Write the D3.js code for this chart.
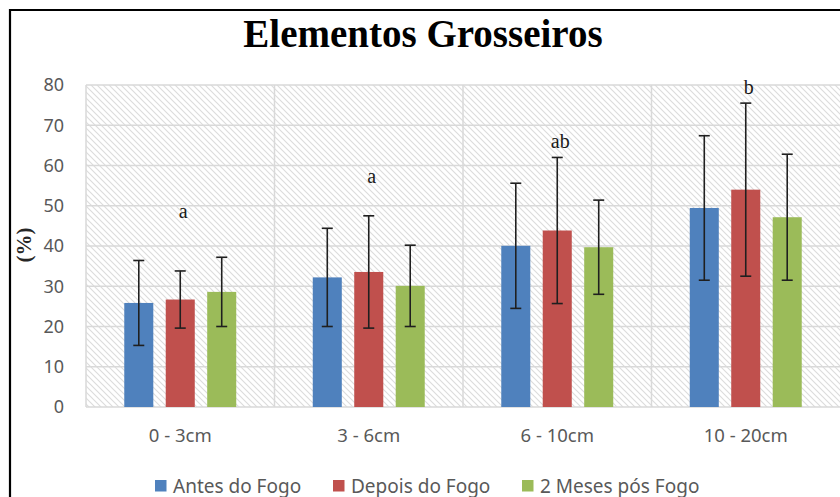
<!DOCTYPE html>
<html>
<head>
<meta charset="utf-8">
<script src="https://cdn.jsdelivr.net/npm/d3@7/dist/d3.min.js"></script>
<style>
html,body{margin:0;padding:0;background:#fff;}
svg{display:block;}
</style>
</head>
<body>
<svg id="chart" width="840" height="497"></svg>
<script>
const categories = ["0 - 3cm", "3 - 6cm", "6 - 10cm", "10 - 20cm"];
const seriesNames = ["Antes do Fogo", "Depois do Fogo", "2 Meses pós Fogo"];
const antes = [25.85, 32.2, 40.05, 49.45];
const antesErr = [10.55, 12.2, 15.55, 17.95];
const depois = [26.7, 33.55, 43.85, 54.0];
const depoisErr = [7.1, 13.95, 18.15, 21.5];
const pos = [28.6, 30.1, 39.7, 47.15];
const posErr = [8.6, 10.1, 11.7, 15.65];
const letters = ["a", "a", "ab", "b"];
const letterValues = [47, 55.7, 64.3, 77.7];
const yTicks = [0, 10, 20, 30, 40, 50, 60, 70, 80];
const colors = ["#4f81bd", "#c0504d", "#9bbb59"];

const values = [antes, depois, pos];
const errs = [antesErr, depoisErr, posErr];

const svg = d3.select("#chart");
const plot = {left: 86, right: 840, top: 85, bottom: 407};

const defs = svg.append("defs");
const pat = defs.append("pattern").attr("id", "hatch")
  .attr("patternUnits", "userSpaceOnUse").attr("width", 6).attr("height", 6);
pat.append("rect").attr("width", 6).attr("height", 6).attr("fill", "#ffffff");
pat.append("path").attr("d", "M-1,-1 L7,7 M-1,5 L1,7 M5,-1 L7,1")
  .attr("stroke", "#dcdcdc").attr("stroke-width", 1.1);

const x = d3.scaleBand().domain(categories).range([plot.left, plot.right]).padding(0);
const bw = x.bandwidth();
const xSub = d3.scaleBand().domain(seriesNames).range([bw * 0.17, bw * 0.83]).paddingInner(0.3).paddingOuter(0.15);
const y = d3.scaleLinear().domain([0, 80]).range([plot.bottom, plot.top]);

// plot background hatch
svg.append("rect").attr("x", plot.left).attr("y", plot.top)
  .attr("width", plot.right - plot.left).attr("height", plot.bottom - plot.top)
  .attr("fill", "url(#hatch)");

// horizontal gridlines
svg.append("g").selectAll("line").data(yTicks).join("line")
  .attr("x1", plot.left).attr("x2", plot.right)
  .attr("y1", d => y(d)).attr("y2", d => y(d))
  .attr("stroke", "#d9d9d9").attr("stroke-width", 1.5);

// vertical gridlines at category boundaries
svg.append("g").selectAll("line").data(categories).join("line")
  .attr("x1", d => x(d)).attr("x2", d => x(d))
  .attr("y1", plot.top).attr("y2", plot.bottom)
  .attr("stroke", "#d9d9d9").attr("stroke-width", 1.5);

// y axis
const yAxis = svg.append("g").attr("transform", `translate(${plot.left},0)`)
  .call(d3.axisLeft(y).tickValues(yTicks).tickSize(0).tickPadding(22));
yAxis.select(".domain").remove();
yAxis.selectAll("text").attr("font-family", "'Noto Sans', sans-serif")
  .attr("font-size", 18).attr("fill", "#595959");

// x axis
const xAxis = svg.append("g").attr("transform", `translate(0,${plot.bottom})`)
  .call(d3.axisBottom(x).tickSize(0).tickPadding(22));
xAxis.select(".domain").remove();
xAxis.selectAll("text").attr("font-family", "'Noto Sans', sans-serif")
  .attr("font-size", 18.5).attr("fill", "#595959");

// bars
const groups = svg.append("g").selectAll("g").data(categories).join("g")
  .attr("transform", d => `translate(${x(d)},0)`);

seriesNames.forEach((s, si) => {
  groups.append("rect")
    .attr("x", xSub(s))
    .attr("width", xSub.bandwidth())
    .attr("y", (d, i) => y(values[si][i]))
    .attr("height", (d, i) => y(0) - y(values[si][i]))
    .attr("fill", colors[si]);
});

// error bars
seriesNames.forEach((s, si) => {
  const cx = xSub(s) + xSub.bandwidth() / 2;
  const g = groups.append("g").attr("stroke", "#1f1f1f").attr("stroke-width", 1.6);
  g.append("line").attr("x1", cx).attr("x2", cx)
    .attr("y1", (d, i) => y(values[si][i] + errs[si][i]))
    .attr("y2", (d, i) => y(values[si][i] - errs[si][i]));
  g.append("line").attr("x1", cx - 5.5).attr("x2", cx + 5.5)
    .attr("y1", (d, i) => y(values[si][i] + errs[si][i]))
    .attr("y2", (d, i) => y(values[si][i] + errs[si][i]));
  g.append("line").attr("x1", cx - 5.5).attr("x2", cx + 5.5)
    .attr("y1", (d, i) => y(values[si][i] - errs[si][i]))
    .attr("y2", (d, i) => y(values[si][i] - errs[si][i]));
});

// significance letters
svg.append("g").selectAll("text").data(categories).join("text")
  .attr("x", d => x(d) + bw / 2 + 3)
  .attr("y", (d, i) => y(letterValues[i]))
  .attr("text-anchor", "middle")
  .attr("font-family", "'Liberation Serif', 'Times New Roman', serif")
  .attr("font-size", 20).attr("fill", "#1a1a1a")
  .text((d, i) => letters[i]);

// title
svg.append("text").attr("x", 423).attr("y", 47)
  .attr("text-anchor", "middle")
  .attr("font-family", "'Liberation Serif', 'Times New Roman', serif")
  .attr("font-weight", "bold").attr("font-size", 39).attr("fill", "#000")
  .text("Elementos Grosseiros");

// y axis title
svg.append("text").attr("transform", "translate(31,245) rotate(-90)")
  .attr("text-anchor", "middle")
  .attr("font-family", "'Liberation Serif', 'Times New Roman', serif")
  .attr("font-weight", "bold").attr("font-size", 21).attr("fill", "#262626")
  .text("(%)");

// legend
const legendX = [155, 333, 522];
const leg = svg.append("g").selectAll("g").data(seriesNames).join("g")
  .attr("transform", (d, i) => `translate(${legendX[i]},480)`);
leg.append("rect").attr("width", 11.5).attr("height", 11.5).attr("fill", (d, i) => colors[i]);
leg.append("text").attr("x", 18).attr("y", 12.5)
  .attr("font-family", "'Noto Sans', sans-serif").attr("font-size", 19)
  .attr("fill", "#595959").text(d => d);

// outer border
svg.append("path").attr("d", "M10,520 L10,10 L860,10")
  .attr("fill", "none").attr("stroke", "#000").attr("stroke-width", 2.2);
</script>
</body>
</html>
